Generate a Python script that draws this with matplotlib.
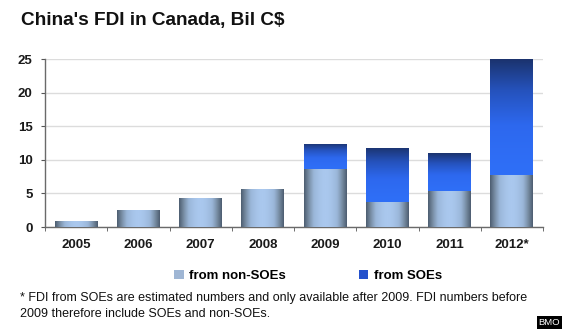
import numpy as np
import matplotlib
matplotlib.use("Agg")
import matplotlib.pyplot as plt
from matplotlib.colors import LinearSegmentedColormap
from matplotlib.patches import Patch

years = ["2005", "2006", "2007", "2008", "2009", "2010", "2011", "2012*"]
non_soe = [0.9, 2.6, 4.3, 5.65, 8.6, 3.7, 5.4, 7.8]
soe = [0, 0, 0, 0, 3.75, 8.1, 5.55, 17.2]
yticks = [0, 5, 10, 15, 20, 25]

plt.rcParams['font.family'] = ['Liberation Sans', 'DejaVu Sans']

fig = plt.figure(figsize=(5.70, 3.29), dpi=100)
ax = fig.add_axes([45/570, 1-227/329, (543-45)/570, (227-59)/329])

x = np.arange(len(years))
w = 0.69
b1 = ax.bar(x, non_soe, width=w, color='#8fa8c8', zorder=3)
b2 = ax.bar(x, soe, width=w, bottom=non_soe, color='#2a5ad8', zorder=3)

cm_h = LinearSegmentedColormap.from_list('h', ['#aac8ee', '#9ab6d8', '#74899f', '#4d5d70'])
cm_v = LinearSegmentedColormap.from_list('v', ['#2f6ff7', '#2d68ee', '#2552bc', '#1b336e'])

def grad_fill(bars, cmap, orient):
    for b in bars:
        x0, y0 = b.get_x(), b.get_y()
        bw, bh = b.get_width(), b.get_height()
        if bh <= 0:
            b.set_visible(False)
            continue
        if orient == 'h':
            t = np.linspace(-1, 1, 128)
            img = (np.abs(t) ** 1.8)[None, :]
        else:
            img = (np.linspace(0, 1, 128) ** 1.3)[:, None]
        im = ax.imshow(img, extent=[x0, x0 + bw, y0, y0 + bh], cmap=cmap,
                       vmin=0, vmax=1, aspect='auto', origin='lower',
                       interpolation='bilinear', zorder=3)
        im.set_clip_path(b)
        b.set_facecolor('none')

grad_fill(b1, cm_h, 'h')
grad_fill(b2, cm_v, 'v')

ax.set_xlim(-0.5, len(years) - 0.5)
ax.set_ylim(0, 25)
ax.set_yticks(yticks)
ax.set_xticks(x)
ax.set_xticklabels(years)
ax.set_xticks(np.arange(-0.5, len(years)), minor=True)
ax.tick_params(axis='x', which='major', length=0, pad=9)
ax.tick_params(axis='x', which='minor', length=3, color='#555555', direction='out')
ax.tick_params(axis='y', length=3, color='#555555', pad=6)
for lab in ax.get_xticklabels() + ax.get_yticklabels():
    lab.set_fontweight('bold')
    lab.set_fontsize(9.5)
    lab.set_color('#1a1a1a')

ax.grid(axis='y', color='#dcdcdc', linewidth=1, zorder=0)
ax.set_axisbelow(True)
for s in ['top', 'right']:
    ax.spines[s].set_visible(False)
for s in ['left', 'bottom']:
    ax.spines[s].set_color('#6a6a6a')
    ax.spines[s].set_linewidth(1)

fig.text(21/570, 1-21/329, "China's FDI in Canada, Bil C$", fontsize=13.7,
         fontweight='bold', va='center', ha='left', color='#111111')

handles = [Patch(facecolor='#9fb6d4', edgecolor='none'),
           Patch(facecolor='#2451cc', edgecolor='none')]
fig.legend(handles, ['from non-SOEs', 'from SOEs'], loc='center',
           bbox_to_anchor=(308/570, 1-276/329), ncol=2, frameon=False,
           handlelength=0.75, handleheight=0.75, handletextpad=0.4,
           columnspacing=5.5, prop={'weight': 'bold', 'size': 9.5})

fig.text(20/570, 1-298/329,
         "* FDI from SOEs are estimated numbers and only available after 2009. FDI numbers before",
         fontsize=9.0, va='center', ha='left', color='#111111')
fig.text(20/570, 1-314/329,
         "2009 therefore include SOEs and non-SOEs.",
         fontsize=9.0, va='center', ha='left', color='#111111')

fig.text(549.5/570, 1-322.5/329, "BMO", fontsize=6.8, color='white', ha='center',
         va='center', bbox=dict(boxstyle='square,pad=0.2', facecolor='black',
                                edgecolor='none'))

fig.savefig('out.png', dpi=100)
